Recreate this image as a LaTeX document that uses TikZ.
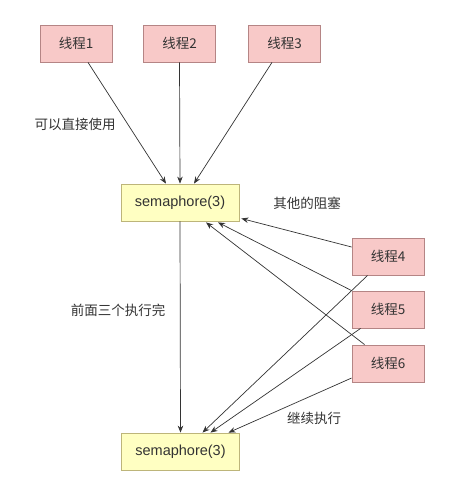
\documentclass[tikz,border=0pt]{standalone}
\usepackage{fontspec}
\setmainfont{Liberation Sans}
\newfontfamily\cjk{Noto Sans CJK SC}
\usetikzlibrary{arrows.meta}
\definecolor{pinkfill}{HTML}{F8C9C8}
\definecolor{pinkdraw}{HTML}{B58585}
\definecolor{yelfill}{HTML}{FFFFC2}
\definecolor{yeldraw}{HTML}{BDB57A}
\definecolor{ink}{HTML}{333333}
\begin{document}
\begin{tikzpicture}[x=1pt,y=-1pt,
  thread/.style={draw=pinkdraw,fill=pinkfill,line width=0.8pt,minimum width=72pt,minimum height=37pt,inner sep=0pt,font=\cjk\fontsize{13.5}{15}\selectfont,text=ink},
  sema/.style={draw=yeldraw,fill=yelfill,line width=0.8pt,minimum width=118pt,minimum height=37pt,inner sep=0pt,font=\fontsize{14.5}{16}\selectfont,text=ink},
  lab/.style={font=\cjk\fontsize{13.5}{15}\selectfont,text=ink,inner sep=0pt},
  conn/.style={draw=ink,line width=0.7pt,-{Stealth[length=7pt,width=5.5pt]}}]
\useasboundingbox (0,0) rectangle (455,487);
\node[thread] (t1) at (76,43.5) {线程1};
\node[thread] (t2) at (179.5,43.5) {线程2};
\node[thread] (t3) at (284.5,43.5) {线程3};
\node[sema] (s1) at (180,202.5) {semaphore(3)};
\node[thread] (t4) at (388,256.5) {线程4};
\node[thread] (t5) at (388,309.5) {线程5};
\node[thread] (t6) at (388,363.5) {线程6};
\node[sema] (s2) at (180.5,451.5) {semaphore(3)};
\node[lab] (l1) at (75,124) {可以直接使用};
\node[lab] (l2) at (307,203) {其他的阻塞};
\node[lab] (l3) at (118,310) {前面三个执行完};
\node[lab] (l4) at (314,418) {继续执行};
\draw[conn] ([xshift=12pt]t1.south) -- ([xshift=-14pt]s1.north);
\draw[conn] (t2.south) -- (s1.north);
\draw[conn] ([xshift=-12.5pt]t3.south) -- ([xshift=14pt]s1.north);
\draw[conn] ([yshift=9.5pt]t4.west) -- ([xshift=2pt,yshift=-16pt]s1.east);
\draw[conn] (t5.north west) -- ([xshift=38pt,yshift=-1pt]s1.south);
\draw[conn] ([xshift=13pt]t6.north west) -- ([xshift=26pt,yshift=-1pt]s1.south);
\draw[conn] (s1.south) -- (s2.north);
\draw[conn] ([xshift=16pt]t4.south west) -- ([xshift=22pt]s2.north);
\draw[conn] ([xshift=9pt]t5.south west) -- ([xshift=30pt]s2.north);
\draw[conn] ([yshift=-14.5pt]t6.west) -- ([xshift=48pt]s2.north);
\end{tikzpicture}
\end{document}
